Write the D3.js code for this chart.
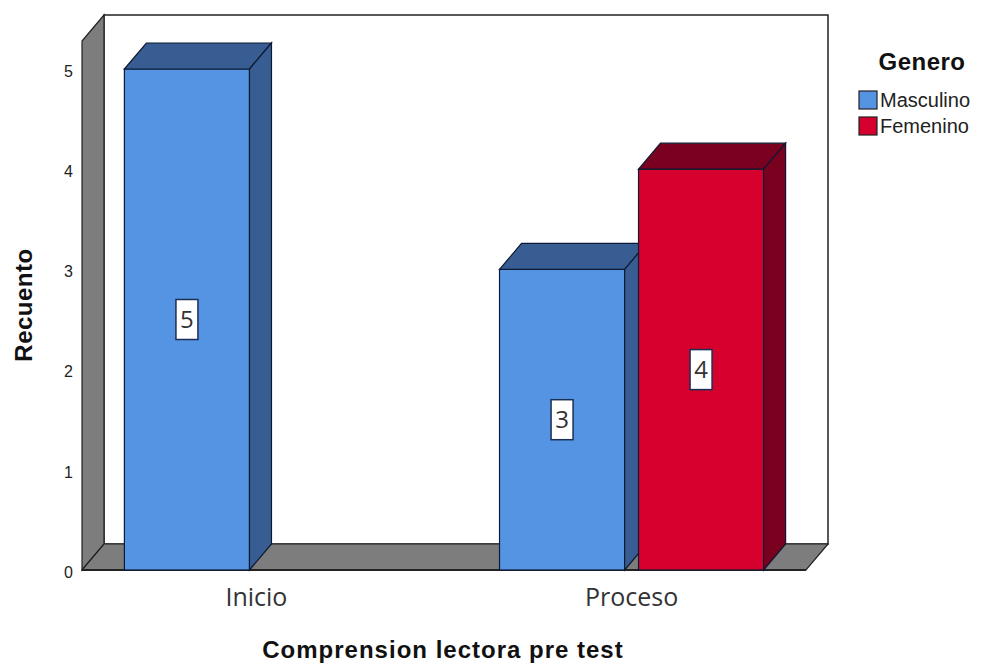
<!DOCTYPE html>
<html><head><meta charset="utf-8">
<script src="https://cdn.jsdelivr.net/npm/d3@7"></script>
<style>body{margin:0;background:#fff}svg{display:block}</style>
</head><body>
<script>
const categories = ["Inicio", "Proceso"];
const series = ["Masculino", "Femenino"];
const masculino = [5, 3];
const femenino = [0, 4];
const yTicks = [0, 1, 2, 3, 4, 5];

const W = 985, H = 664;
const DX = 22, DY = -26;
const frontColor = {Masculino: "#5594e3", Femenino: "#d6002f"};
const darkColor = {Masculino: "#385d92", Femenino: "#7a0020"};

const svg = d3.select("body").append("svg").attr("width", W).attr("height", H);

const y = d3.scaleLinear().domain([0, 5]).range([570, 69]);
const x0 = d3.scaleBand().domain(categories).range([82, 806]).paddingInner(0.296).paddingOuter(0.113);
const x1 = d3.scaleBand().domain(series).range([0, x0.bandwidth()]).paddingInner(0.1).paddingOuter(0);

const yb = y(0);
const backTop = 15;
const xl = x0.range()[0], xr = x0.range()[1];
const pts = a => a.map(p => p.join(",")).join(" ");

// back wall
svg.append("rect").attr("x", xl + DX).attr("y", backTop).attr("width", xr - xl).attr("height", yb + DY - backTop)
  .attr("fill", "#fff").attr("stroke", "#222").attr("stroke-width", 1.5);
// left wall
svg.append("polygon").attr("points", pts([[xl, yb], [xl, backTop - DY], [xl + DX, backTop], [xl + DX, yb + DY]]))
  .attr("fill", "#7d7d7d").attr("stroke", "#222").attr("stroke-width", 1.2);
// floor
svg.append("polygon").attr("points", pts([[xl, yb], [xl + DX, yb + DY], [xr + DX, yb + DY], [xr, yb]]))
  .attr("fill", "#7d7d7d").attr("stroke", "#222").attr("stroke-width", 1.2);
svg.append("line").attr("x1", xl).attr("x2", xr).attr("y1", yb).attr("y2", yb).attr("stroke", "#222").attr("stroke-width", 2);

// y tick labels
svg.append("g").selectAll("text").data(yTicks).join("text")
  .attr("x", 73).attr("y", d => y(d) + 2).attr("dy", "0.36em").attr("text-anchor", "end")
  .attr("font-family", "Liberation Sans, Arial, sans-serif").attr("font-size", 16).attr("fill", "#222")
  .text(d => d);

// bars
const data = [];
categories.forEach((c, i) => {
  data.push({cat: c, s: "Masculino", v: masculino[i]});
  data.push({cat: c, s: "Femenino", v: femenino[i]});
});
const bars = data.filter(d => d.v > 0);
const g = svg.append("g");
bars.forEach(d => {
  const bx = x0(d.cat) + x1(d.s), bw = x1.bandwidth();
  const top = y(d.v);
  const gg = g.append("g");
  gg.append("rect").attr("x", bx).attr("y", top).attr("width", bw).attr("height", yb - top)
    .attr("fill", frontColor[d.s]).attr("stroke", "#0d1a33").attr("stroke-width", 1.2);
  gg.append("polygon").attr("points", pts([[bx, top], [bx + DX, top + DY], [bx + bw + DX, top + DY], [bx + bw, top]]))
    .attr("fill", darkColor[d.s]).attr("stroke", "#0d1a33").attr("stroke-width", 1.2);
  gg.append("polygon").attr("points", pts([[bx + bw, top], [bx + bw + DX, top + DY], [bx + bw + DX, yb + DY], [bx + bw, yb]]))
    .attr("fill", darkColor[d.s]).attr("stroke", "#0d1a33").attr("stroke-width", 1.2);
  const cx = bx + bw / 2, cy = y(d.v / 2);
  gg.append("rect").attr("x", cx - 11).attr("y", cy - 20).attr("width", 22).attr("height", 40)
    .attr("fill", "#fff").attr("stroke", "#1b2f55").attr("stroke-width", 1.5);
  gg.append("text").attr("x", cx).attr("y", cy).attr("dy", "0.36em").attr("text-anchor", "middle")
    .attr("font-family", "Open Sans, Liberation Sans, sans-serif").attr("font-size", 24).attr("fill", "#333")
    .text(d.v);
});

// category labels
svg.append("g").selectAll("text").data(categories).join("text")
  .attr("x", d => x0(d) + x0.bandwidth() / 2).attr("y", 597).attr("dy", "0.36em").attr("text-anchor", "middle")
  .attr("font-family", "Open Sans, Liberation Sans, sans-serif").attr("font-size", 25).attr("fill", "#333")
  .text(d => d);

// axis titles
svg.append("text").attr("x", 443).attr("y", 658).attr("text-anchor", "middle")
  .attr("font-family", "Liberation Sans, Arial, sans-serif").attr("font-weight", "bold").attr("font-size", 24)
  .attr("letter-spacing", 1).attr("fill", "#111")
  .text("Comprension lectora pre test");
svg.append("text").attr("transform", "translate(32,305) rotate(-90)").attr("text-anchor", "middle")
  .attr("font-family", "Liberation Sans, Arial, sans-serif").attr("font-weight", "bold").attr("font-size", 24)
  .attr("letter-spacing", 0.5).attr("fill", "#111")
  .text("Recuento");

// legend
svg.append("text").attr("x", 922).attr("y", 70).attr("text-anchor", "middle")
  .attr("font-family", "Liberation Sans, Arial, sans-serif").attr("font-weight", "bold").attr("font-size", 24)
  .attr("letter-spacing", 0.5).attr("fill", "#111")
  .text("Genero");
const lg = svg.append("g").selectAll("g").data(series).join("g")
  .attr("transform", (d, i) => `translate(859,${91 + i * 26})`);
lg.append("rect").attr("width", 18).attr("height", 18).attr("fill", d => frontColor[d]).attr("stroke", "#222").attr("stroke-width", 1.2);
lg.append("text").attr("x", 21).attr("y", 16)
  .attr("font-family", "Liberation Sans, Arial, sans-serif").attr("font-size", 20).attr("fill", "#222")
  .text(d => d);
</script>
</body></html>
